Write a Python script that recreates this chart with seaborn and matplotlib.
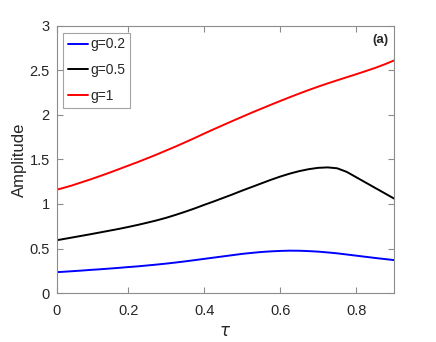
import numpy as np
import pandas as pd
import matplotlib
matplotlib.use("Agg")
import matplotlib.pyplot as plt
import seaborn as sns

# ---- data ----
tau = [0.0114, 0.025, 0.05, 0.075, 0.1, 0.125, 0.15, 0.175, 0.2, 0.225, 0.25,
       0.275, 0.3, 0.325, 0.35, 0.375, 0.4, 0.425, 0.45, 0.475, 0.5, 0.525,
       0.55, 0.575, 0.6, 0.625, 0.65, 0.675, 0.7, 0.725, 0.75, 0.775, 0.8,
       0.825, 0.85, 0.875, 0.9]
amp_g02 = [0.235, 0.238, 0.245, 0.252, 0.26, 0.267, 0.275, 0.283, 0.292, 0.30,
           0.31, 0.32, 0.331, 0.343, 0.356, 0.37, 0.384, 0.398, 0.412, 0.426,
           0.44, 0.451, 0.461, 0.468, 0.473, 0.476, 0.475, 0.471, 0.465, 0.456,
           0.446, 0.433, 0.42, 0.407, 0.394, 0.382, 0.37]
amp_g05 = [0.593, 0.603, 0.622, 0.641, 0.66, 0.68, 0.70, 0.72, 0.742, 0.765,
           0.79, 0.816, 0.845, 0.878, 0.913, 0.95, 0.99, 1.028, 1.068, 1.108,
           1.15, 1.19, 1.23, 1.27, 1.307, 1.34, 1.368, 1.39, 1.405, 1.41,
           1.40, 1.36, 1.30, 1.24, 1.18, 1.12, 1.06]
amp_g1 = [1.16, 1.175, 1.205, 1.24, 1.275, 1.312, 1.35, 1.39, 1.43, 1.47, 1.512,
          1.555, 1.60, 1.645, 1.692, 1.74, 1.79, 1.838, 1.885, 1.932, 1.978,
          2.024, 2.068, 2.112, 2.155, 2.197, 2.238, 2.278, 2.316, 2.352, 2.387,
          2.421, 2.455, 2.49, 2.526, 2.566, 2.61]
series_labels = ["g=0.2", "g=0.5", "g=1"]
series_colors = ["#0000ff", "#000000", "#ff0000"]
xtick_vals = [0.0114, 0.2, 0.4, 0.6, 0.8]
xtick_labels = ["0", "0.2", "0.4", "0.6", "0.8"]
ytick_vals = [0, 0.5, 1, 1.5, 2, 2.5, 3]
ytick_labels = ["0", "0.5", "1", "1.5", "2", "2.5", "3"]

df = pd.concat([
    pd.DataFrame({"tau": tau, "amp": vals, "g": lab})
    for vals, lab in zip([amp_g02, amp_g05, amp_g1], series_labels)
], ignore_index=True)

sns.set_style("white")
plt.rcParams["font.family"] = ["Liberation Sans", "DejaVu Sans"]
plt.rcParams["mathtext.fontset"] = "dejavusans"

fig = plt.figure(figsize=(4.36, 3.42), dpi=100)
ax = fig.add_axes([0.130, 0.143, 0.774, 0.782])

sns.lineplot(data=df, x="tau", y="amp", hue="g", hue_order=series_labels,
             palette=series_colors, linewidth=1.4, ax=ax, sort=False,
             estimator=None)

ax.set_xlim(0.0114, 0.9)
ax.set_ylim(0, 3)
ax.set_xticks(xtick_vals)
ax.set_xticklabels(xtick_labels)
ax.set_yticks(ytick_vals)
ax.set_yticklabels(ytick_labels)

spine_c = "#8c8c8c"
for s in ax.spines.values():
    s.set_visible(True)
    s.set_color(spine_c)
    s.set_linewidth(0.8)
ax.tick_params(direction="in", length=4.5, width=0.8, color=spine_c,
               labelsize=10.5, labelcolor="#262626", top=True, right=True,
               left=True, bottom=True)
ax.tick_params(axis="x", pad=8)
ax.tick_params(axis="y", pad=5)

ax.set_xlabel(r"$\tau$", fontsize=12, color="#262626", labelpad=4)
ax.set_ylabel("Amplitude", fontsize=12, color="#262626", labelpad=2)

leg = ax.legend(loc="upper left", bbox_to_anchor=(0.0178, 0.974),
                fontsize=10, frameon=True, fancybox=False,
                handlelength=1.45, handletextpad=0.2, borderpad=0.35,
                labelspacing=0.85, borderaxespad=0.0)
leg.get_frame().set_edgecolor("#8c8c8c")
leg.get_frame().set_linewidth(0.8)
leg.set_title(None)

ax.text(0.983, 0.969, "(a)", transform=ax.transAxes, ha="right", va="top",
        fontsize=9.5, fontweight="bold", color="#262626")

fig.savefig("out.png", dpi=100)
